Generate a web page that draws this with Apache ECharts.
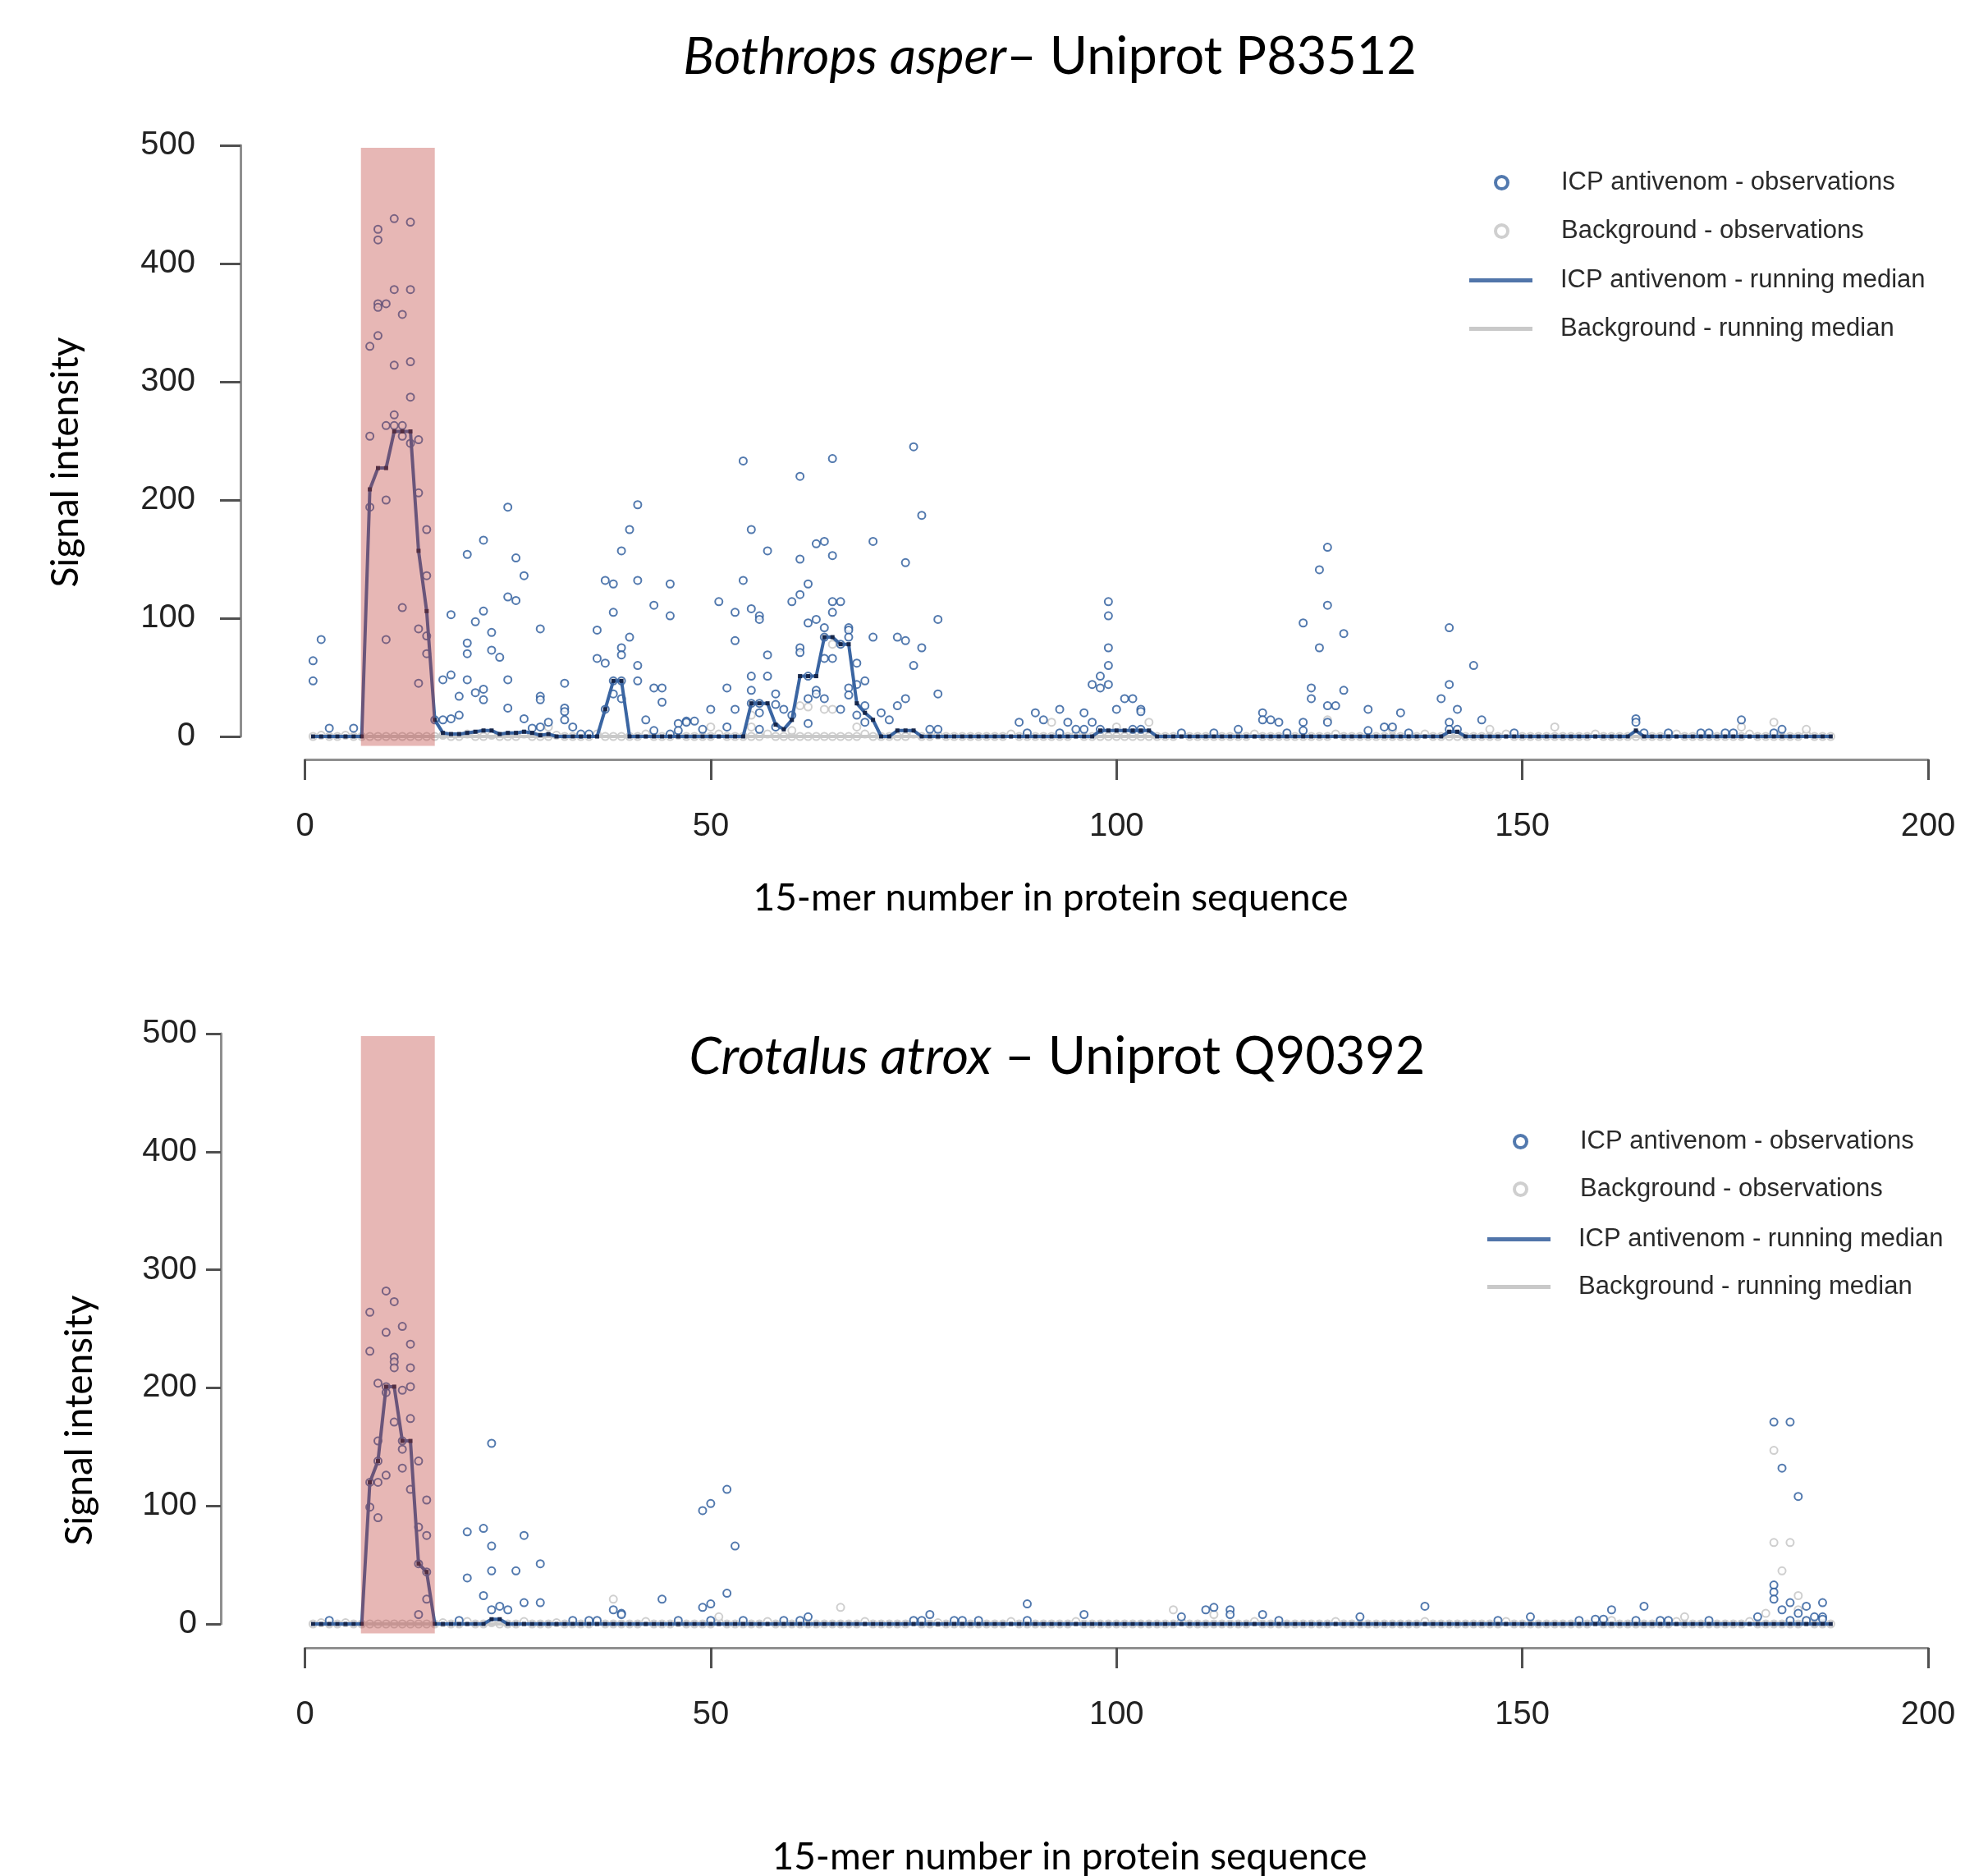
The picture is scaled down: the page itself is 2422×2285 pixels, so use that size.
<!DOCTYPE html>
<html lang="en">
<head>
<meta charset="UTF-8">
<script src="https://cdn.jsdelivr.net/npm/echarts@6/dist/echarts.min.js"></script>
<title>Peptide microarray signal</title>
<style>html, body { margin: 0; background: #fff; }</style>
</head>
<body>
<div id="main" style="width:2422px;height:2285px;"></div>
<script>
// running medians, one value per 15-mer (index 0 = peptide 1 ... 187 = peptide 188)
var medianTopIcp = [
  0, 0, 0, 0, 0, 0, 0, 209, 227, 227, 258, 258, 258, 157, 106, 14, 3, 2, 2, 3,
  4, 5, 5, 2, 3, 3, 4, 3, 1, 2, 0, 0, 0, 0, 0, 0, 23, 47, 47, 0,
  0, 0, 0, 0, 0, 0, 0, 0, 0, 0, 0, 0, 0, 0, 28, 28, 28, 10, 6, 14,
  51, 51, 51, 84, 84, 78, 78, 28, 20, 14, 0, 0, 5, 5, 5, 0, 0, 0, 0, 0,
  0, 0, 0, 0, 0, 0, 0, 0, 0, 0, 0, 0, 0, 0, 0, 0, 0, 5, 5, 5,
  5, 5, 5, 5, 0, 0, 0, 0, 0, 0, 0, 0, 0, 0, 0, 0, 0, 0, 0, 0,
  0, 0, 0, 0, 0, 0, 0, 0, 0, 0, 0, 0, 0, 0, 0, 0, 0, 0, 0, 0,
  4, 4, 0, 0, 0, 0, 0, 0, 0, 0, 0, 0, 0, 0, 0, 0, 0, 0, 0, 0,
  0, 0, 0, 5, 0, 0, 0, 0, 0, 0, 0, 0, 0, 0, 0, 0, 0, 0, 0, 0,
  0, 0, 0, 0, 0, 0, 0, 0
];
var medianTopBg = [
  0, 0, 0, 0, 0, 0, 0, 0, 0, 0, 0, 0, 0, 0, 0, 0, 0, 0, 0, 0,
  0, 0, 0, 0, 0, 0, 0, 0, 0, 0, 0, 0, 0, 0, 0, 0, 0, 0, 0, 0,
  0, 0, 0, 0, 0, 0, 0, 0, 0, 0, 0, 0, 0, 0, 0, 0, 0, 0, 0, 0,
  0, 0, 0, 0, 0, 0, 0, 0, 0, 0, 0, 0, 0, 0, 0, 0, 0, 0, 0, 0,
  0, 0, 0, 0, 0, 0, 0, 0, 0, 0, 0, 0, 0, 0, 0, 0, 0, 0, 0, 0,
  0, 0, 0, 0, 0, 0, 0, 0, 0, 0, 0, 0, 0, 0, 0, 0, 0, 0, 0, 0,
  0, 0, 0, 0, 0, 0, 0, 0, 0, 0, 0, 0, 0, 0, 0, 0, 0, 0, 0, 0,
  0, 0, 0, 0, 0, 0, 0, 0, 0, 0, 0, 0, 0, 0, 0, 0, 0, 0, 0, 0,
  0, 0, 0, 0, 0, 0, 0, 0, 0, 0, 0, 0, 0, 0, 0, 0, 0, 0, 0, 0,
  0, 0, 0, 0, 0, 0, 0, 0
];
var medianBottomIcp = [
  0, 0, 0, 0, 0, 0, 0, 120, 138, 201, 201, 155, 155, 51, 44, 0, 0, 0, 0, 0,
  0, 0, 4, 4, 0, 0, 0, 0, 0, 0, 0, 0, 0, 0, 0, 0, 0, 0, 0, 0,
  0, 0, 0, 0, 0, 0, 0, 0, 0, 0, 0, 0, 0, 0, 0, 0, 0, 0, 0, 0,
  0, 0, 0, 0, 0, 0, 0, 0, 0, 0, 0, 0, 0, 0, 0, 0, 0, 0, 0, 0,
  0, 0, 0, 0, 0, 0, 0, 0, 0, 0, 0, 0, 0, 0, 0, 0, 0, 0, 0, 0,
  0, 0, 0, 0, 0, 0, 0, 0, 0, 0, 0, 0, 0, 0, 0, 0, 0, 0, 0, 0,
  0, 0, 0, 0, 0, 0, 0, 0, 0, 0, 0, 0, 0, 0, 0, 0, 0, 0, 0, 0,
  0, 0, 0, 0, 0, 0, 0, 0, 0, 0, 0, 0, 0, 0, 0, 0, 0, 0, 0, 0,
  0, 0, 0, 0, 0, 0, 0, 0, 0, 0, 0, 0, 0, 0, 0, 0, 0, 0, 0, 0,
  0, 0, 0, 0, 0, 0, 0, 0
];
var medianBottomBg = medianTopBg.slice();

// background observations lying on the baseline, one per 15-mer
var bgLowTop = [
  0, 1, 0, 0, 1, 0, 0, 0, 0, 0, 0, 0, 0, 0, 0, 0, 1, 0, 0, 2,
  0, 0, 1, 0, 0, 0, 2, 0, 0, 0, 1, 0, 0, 0, 0, 2, 0, 0, 0, 0,
  0, 2, 0, 0, 0, 1, 0, 0, 0, 0, 2, 0, 0, 0, 0, 0, 2, 0, 0, 0,
  0, 0, 0, 0, 0, 0, 0, 0, 2, 0, 0, 0, 0, 0, 2, 0, 0, 1, 0, 0,
  0, 0, 0, 0, 0, 0, 2, 0, 0, 0, 0, 0, 0, 0, 2, 0, 0, 0, 0, 0,
  0, 0, 0, 0, 0, 0, 0, 2, 0, 0, 0, 0, 0, 0, 0, 0, 2, 0, 0, 0,
  0, 0, 0, 0, 0, 0, 2, 0, 0, 0, 0, 0, 0, 0, 0, 0, 0, 2, 0, 0,
  0, 0, 0, 0, 0, 0, 0, 2, 0, 0, 0, 0, 0, 0, 0, 0, 0, 0, 2, 0,
  0, 0, 0, 0, 0, 0, 0, 0, 2, 0, 0, 0, 0, 0, 0, 0, 0, 2, 0, 0,
  0, 0, 0, 0, 2, 0, 0, 0
];
var bgLowBottom = bgLowTop.slice();

// elevated background observations [15-mer, signal]
var bgExtraTop = [[30, 8], [50, 8], [55, 18], [55, 8], [60, 5], [61, 26], [62, 25], [64, 23], [65, 23],
  [65, 78], [68, 8], [92, 12], [100, 8], [104, 12], [126, 14], [134, 6], [146, 6], [154, 8],
  [177, 8], [181, 12], [185, 6]];
var bgExtraBottom = [[38, 21], [51, 6], [66, 14], [107, 12], [112, 8], [161, 3], [170, 6], [180, 9],
  [181, 147], [181, 69], [182, 45], [183, 69], [184, 24], [184, 12]];

// ICP antivenom observations [15-mer, signal]
var icpObsTop = [
  [1, 64], [1, 47], [2, 82], [3, 7], [6, 7],
  [8, 330], [8, 254], [8, 194], [9, 429], [9, 420], [9, 366], [9, 363], [9, 339],
  [10, 366], [10, 263], [10, 200], [10, 82], [11, 438], [11, 378], [11, 314], [11, 272], [11, 263],
  [12, 357], [12, 263], [12, 254], [12, 109], [13, 435], [13, 378], [13, 317], [13, 287], [13, 248],
  [14, 251], [14, 206], [14, 91], [14, 45], [15, 175], [15, 136], [15, 85], [15, 70],
  [16, 14], [17, 48], [17, 14], [18, 103], [18, 52], [18, 15], [19, 34], [19, 18],
  [20, 154], [20, 79], [20, 70], [20, 48], [21, 97], [21, 37],
  [22, 166], [22, 106], [22, 40], [22, 31], [23, 88], [23, 73], [24, 67],
  [25, 194], [25, 118], [25, 48], [25, 24], [26, 151], [26, 115], [27, 136], [27, 15], [28, 7],
  [29, 91], [29, 34], [29, 31], [29, 8], [30, 12], [32, 45], [32, 24], [32, 21], [32, 14], [33, 8], [34, 2], [35, 2],
  [36, 90], [36, 66], [37, 132], [37, 62], [37, 23], [38, 129], [38, 105], [38, 47], [38, 36],
  [39, 157], [39, 75], [39, 69], [39, 47], [39, 32], [40, 175], [40, 84], [41, 196], [41, 132], [41, 60], [41, 47],
  [42, 14], [43, 111], [43, 41], [43, 5], [44, 41], [44, 29], [45, 129], [45, 102], [45, 2], [46, 11], [46, 5],
  [47, 13], [47, 12], [48, 13], [49, 6], [50, 23], [51, 114], [52, 41], [52, 8], [53, 105], [53, 81], [53, 23],
  [54, 233], [54, 132], [55, 175], [55, 108], [55, 51], [55, 39], [55, 28], [56, 102], [56, 99], [56, 28], [56, 20], [56, 6],
  [57, 157], [57, 69], [57, 51], [58, 36], [58, 27], [58, 8], [59, 23], [60, 114], [60, 18],
  [61, 220], [61, 150], [61, 120], [61, 75], [61, 71], [62, 129], [62, 96], [62, 51], [62, 32], [62, 11],
  [63, 163], [63, 99], [63, 39], [63, 36], [64, 165], [64, 92], [64, 84], [64, 66], [64, 32],
  [65, 235], [65, 153], [65, 114], [65, 105], [65, 66], [66, 114], [66, 78], [66, 23],
  [67, 92], [67, 90], [67, 84], [67, 41], [67, 35], [68, 62], [68, 44], [68, 18], [69, 47], [69, 26], [69, 12],
  [70, 165], [70, 84], [71, 20], [72, 14], [73, 84], [73, 26], [74, 147], [74, 81], [74, 32],
  [75, 245], [75, 60], [76, 187], [76, 75], [77, 6], [78, 99], [78, 36], [78, 6],
  [88, 12], [89, 3], [90, 20], [91, 14], [93, 23], [93, 3], [94, 12], [95, 6], [96, 20], [96, 6],
  [97, 44], [97, 12], [98, 51], [98, 41], [98, 6], [99, 114], [99, 102], [99, 75], [99, 60], [99, 44],
  [100, 23], [101, 32], [102, 32], [102, 6], [103, 23], [103, 21], [103, 6], [108, 3], [112, 3], [115, 6],
  [118, 20], [118, 14], [119, 14], [120, 12], [121, 3], [123, 96], [123, 12], [123, 5], [124, 41], [124, 32],
  [125, 141], [125, 75], [126, 160], [126, 111], [126, 26], [126, 12], [127, 26], [128, 87], [128, 39],
  [131, 23], [131, 5], [133, 8], [134, 8], [135, 20], [136, 3], [140, 32], [141, 92], [141, 44], [141, 12], [141, 6],
  [142, 23], [142, 6], [144, 60], [145, 14], [149, 3], [164, 15], [164, 12], [165, 3], [168, 3], [172, 3], [173, 3],
  [175, 3], [176, 3], [177, 14], [181, 3], [182, 6]
];
var icpObsBottom = [
  [3, 3], [8, 264], [8, 231], [8, 120], [8, 99], [9, 204], [9, 155], [9, 138], [9, 120], [9, 90],
  [10, 282], [10, 247], [10, 201], [10, 196], [10, 126], [11, 273], [11, 226], [11, 222], [11, 217], [11, 171],
  [12, 252], [12, 198], [12, 155], [12, 148], [12, 132], [13, 237], [13, 217], [13, 201], [13, 174], [13, 114],
  [14, 138], [14, 82], [14, 51], [14, 8], [15, 105], [15, 75], [15, 44], [15, 21],
  [19, 3], [20, 78], [20, 39], [22, 81], [22, 24], [23, 153], [23, 66], [23, 45], [23, 12], [24, 15], [25, 12],
  [26, 45], [27, 75], [27, 18], [29, 51], [29, 18], [33, 3], [35, 3], [36, 3], [38, 12], [39, 9], [39, 8],
  [44, 21], [46, 3], [49, 96], [49, 14], [50, 102], [50, 17], [50, 3], [52, 114], [52, 26], [53, 66], [54, 3],
  [59, 3], [61, 3], [62, 6], [75, 3], [76, 3], [77, 8], [80, 3], [81, 3], [83, 3], [89, 17], [89, 3], [96, 8],
  [108, 6], [111, 12], [112, 14], [114, 12], [114, 8], [118, 8], [120, 3], [130, 6], [138, 15], [147, 3],
  [151, 6], [157, 3], [159, 4], [160, 4], [161, 12], [164, 3], [165, 15], [167, 3], [168, 3], [173, 3], [179, 6],
  [181, 171], [181, 33], [181, 27], [181, 21], [182, 132], [182, 12], [183, 171], [183, 18], [183, 3],
  [184, 108], [184, 9], [185, 15], [185, 3], [186, 6], [187, 18], [187, 6], [187, 4]
];

// highlighted epitope region (15-mer range and signal range of the band)
var bandX = [6.9, 16];
var bandY = [-8, 498];

var xTicks = [0, 50, 100, 150, 200];
var yTicks = [0, 100, 200, 300, 400, 500];

var blueObs = '#27579a', blueLine = '#3a65a2', darkSq = '#16264a';
var grayObs = '#c3c3c3', grayLine = '#c9c9c9';
var numFont = 'Liberation Sans';
var textFont = 'Lato';

function toPairs(arr) {
    return arr.map(function (v, i) { return [i + 1, v]; });
}

function panel(gi, icpObs, bgLow, bgExtra, medIcp, medBg) {
    return [
        {
            name: 'Background - observations', type: 'scatter', xAxisIndex: gi, yAxisIndex: gi,
            data: toPairs(bgLow).concat(bgExtra), symbol: 'emptyCircle', symbolSize: 9, clip: false,
            itemStyle: { color: grayObs, borderWidth: 2.5 }, z: 2
        },
        {
            name: 'ICP antivenom - observations', type: 'scatter', xAxisIndex: gi, yAxisIndex: gi,
            data: icpObs, symbol: 'emptyCircle', symbolSize: 9, clip: false,
            itemStyle: { color: blueObs, borderWidth: 2.5 }, z: 3
        },
        {
            name: 'Background - running median', type: 'line', xAxisIndex: gi, yAxisIndex: gi,
            data: toPairs(medBg), showSymbol: false, clip: false,
            lineStyle: { color: grayLine, width: 4 }, itemStyle: { color: grayLine }, z: 4
        },
        {
            name: 'ICP antivenom - running median', type: 'line', xAxisIndex: gi, yAxisIndex: gi,
            data: toPairs(medIcp), symbol: 'rect', symbolSize: 5, clip: false,
            lineStyle: { color: blueLine, width: 4 }, itemStyle: { color: darkSq }, z: 5
        },
        {
            type: 'custom', xAxisIndex: gi, yAxisIndex: gi, silent: true, z: 10,
            data: [[bandX[0], bandX[1]]],
            renderItem: function (params, api) {
                var p0 = api.coord([api.value(0), bandY[1]]);
                var p1 = api.coord([api.value(1), bandY[0]]);
                return {
                    type: 'rect',
                    shape: { x: p0[0], y: p0[1], width: p1[0] - p0[0], height: p1[1] - p0[1] },
                    style: { fill: 'rgba(190,60,55,0.37)' }
                };
            }
        }
    ];
}

function xAxisCfg(gi, offset) {
    return {
        gridIndex: gi, type: 'value', min: xTicks[0], max: xTicks[xTicks.length - 1], interval: 50,
        position: 'bottom', offset: offset,
        axisLine: { onZero: false, lineStyle: { color: '#8f8f8f', width: 3 } },
        axisTick: { length: 25, lineStyle: { color: '#505050', width: 3 } },
        axisLabel: { margin: 62, fontSize: 40, fontFamily: numFont, color: '#222' },
        splitLine: { show: false }
    };
}

function yAxisCfg(gi, offset, tickLen, margin) {
    return {
        gridIndex: gi, type: 'value', min: yTicks[0], max: yTicks[yTicks.length - 1], interval: 100,
        position: 'left', offset: offset,
        axisLine: { show: true, onZero: false, lineStyle: { color: '#8f8f8f', width: 3 } },
        axisTick: { show: true, length: tickLen, lineStyle: { color: '#505050', width: 3 } },
        axisLabel: { margin: margin, fontSize: 40, fontFamily: numFont, color: '#222' },
        splitLine: { show: false }
    };
}

// obsLeft / medLeft differ because the two icon types are laid out differently
function legends(obsLeft, medLeft, top1, top2, gap) {
    var txt = { fontFamily: numFont, fontSize: 31, color: '#2a2a2a', lineHeight: 31, padding: [0, 0, 0, 29] };
    return [
        {
            orient: 'vertical', left: obsLeft, top: top1, itemWidth: 77, itemHeight: 15, itemGap: gap,
            selectedMode: false, textStyle: txt, icon: 'circle',
            data: [
                { name: 'ICP antivenom - observations', itemStyle: { color: '#fff', borderColor: blueObs, borderWidth: 4 } },
                { name: 'Background - observations', itemStyle: { color: '#fff', borderColor: grayObs, borderWidth: 4 } }
            ]
        },
        {
            orient: 'vertical', left: medLeft, top: top2, itemWidth: 77, itemHeight: 5, itemGap: gap,
            selectedMode: false, textStyle: txt, icon: 'rect',
            data: [
                { name: 'ICP antivenom - running median', itemStyle: { color: '#5175aa' } },
                { name: 'Background - running median', itemStyle: { color: grayLine } }
            ]
        }
    ];
}

function label(x, y, text, size, rot) {
    return {
        type: 'text', x: x, y: y, rotation: rot || 0,
        style: {
            text: text, fontFamily: textFont, fontSize: size, fill: '#000',
            align: 'center', verticalAlign: 'middle',
            rich: {
                i: { fontFamily: textFont, fontSize: size, fontStyle: 'italic', fill: '#000' },
                n: { fontFamily: textFont, fontSize: size, fill: '#000' }
            }
        }
    };
}

var chart = echarts.init(document.getElementById('main'));
var option = {
    animation: false,
    backgroundColor: '#fff',
    grid: [
        { left: 371.5, top: 177, width: 1977.5, height: 720 },
        { left: 371.5, top: 1259, width: 1977.5, height: 719 }
    ],
    xAxis: [xAxisCfg(0, 28), xAxisCfg(1, 29)],
    yAxis: [yAxisCfg(0, 78.5, 25, 55), yAxisCfg(1, 102.5, 18, 29)],
    legend: legends(1815, 1785, 202, 321, 28).concat(legends(1838, 1807, 1370, 1489, 27)),
    graphic: [
        label(1279, 70, '{i|Bothrops asper}{n|– Uniprot P83512}', 63),
        label(1288, 1288, '{i|Crotalus atrox}{n| – Uniprot Q90392}', 63),
        label(80, 563, 'Signal intensity', 46, Math.PI / 2),
        label(97, 1730, 'Signal intensity', 46, Math.PI / 2),
        label(1280, 1094, '15-mer number in protein sequence', 46),
        label(1303, 2262, '15-mer number in protein sequence', 46)
    ],
    series: panel(0, icpObsTop, bgLowTop, bgExtraTop, medianTopIcp, medianTopBg)
        .concat(panel(1, icpObsBottom, bgLowBottom, bgExtraBottom, medianBottomIcp, medianBottomBg))
};
chart.setOption(option);
</script>
</body>
</html>
